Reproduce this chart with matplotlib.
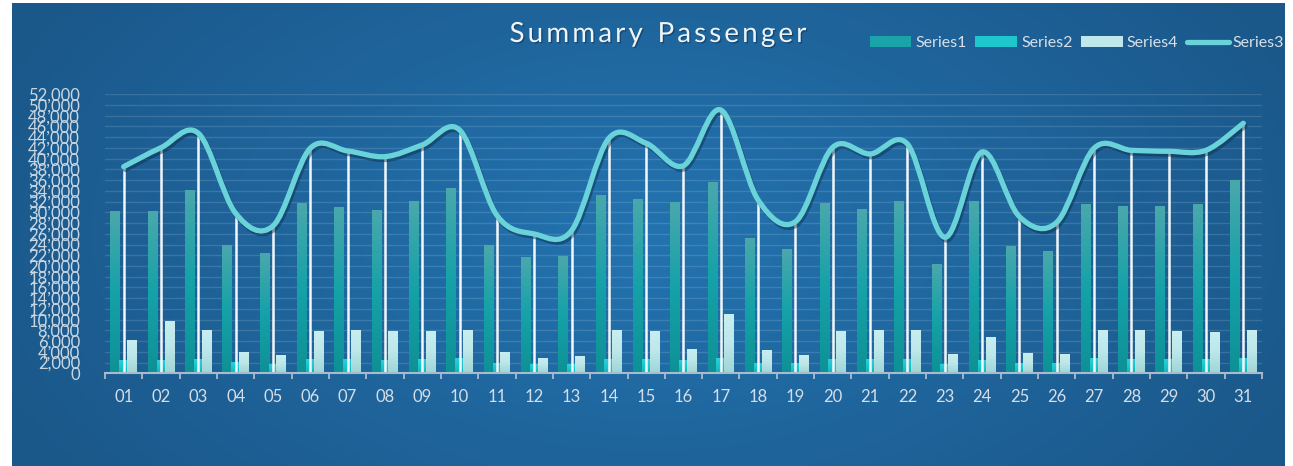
import numpy as np
import matplotlib
matplotlib.use("Agg")
import matplotlib.pyplot as plt
from matplotlib.path import Path
from matplotlib.patches import PathPatch, Patch
from matplotlib.lines import Line2D
import matplotlib.patheffects as pe
from matplotlib.colors import LinearSegmentedColormap

# ---------------- data ----------------
days = ["%02d" % d for d in range(1, 32)]
series1 = [30250, 30250, 34170, 23920, 22420, 31740, 31000, 30440, 32120, 34540,
           23920, 21680, 21870, 33230, 32490, 31930, 35660, 25150, 23170, 31740,
           30620, 32120, 20370, 32120, 23730, 22800, 31560, 31180, 31180, 31560, 36040]
series2 = [2480, 2480, 2670, 2110, 1740, 2670, 2670, 2480, 2670, 2860,
           1930, 1740, 1740, 2670, 2670, 2480, 2860, 1930, 1930, 2670,
           2670, 2670, 1740, 2480, 1930, 1930, 2860, 2670, 2670, 2670, 2860]
series4 = [6210, 9750, 8070, 3980, 3420, 7890, 8070, 7890, 7890, 8070,
           3980, 2860, 3230, 8070, 7890, 4540, 11050, 4350, 3420, 7890,
           8070, 8070, 3600, 6770, 3790, 3600, 8070, 8070, 7890, 7700, 8070]
series3 = [38510, 42050, 44740, 29820, 27460, 41940, 41440, 40380, 42560, 45350,
           29450, 25970, 26590, 43800, 42870, 38700, 49080, 32300, 28260, 42130,
           40880, 42740, 25350, 41250, 29190, 28140, 41940, 41560, 41380, 41560, 46600]
yticks = list(range(0, 52001, 2000))
title = "Summary Passenger"

W, H = 1293, 466
fig = plt.figure(figsize=(W / 100, H / 100), dpi=100)
fig.patch.set_facecolor("white")
FONT = ["Lato", "DejaVu Sans"]

# ---------------- background ----------------
bg = fig.add_axes([12 / W, 0, (1285 - 12) / W, 1 - 3 / H], zorder=-10)
xx, yy = np.meshgrid(np.linspace(-1, 1, 400), np.linspace(-1, 1, 150))
r = np.sqrt((xx * 0.9) ** 2 + (yy * 0.55) ** 2)
r = np.clip(r, 0, 1)
c_center = np.array([0x23, 0x73, 0xb0]) / 255
c_edge = np.array([0x1b, 0x58, 0x8a]) / 255
img = c_center[None, None, :] * (1 - r[..., None]) + c_edge[None, None, :] * r[..., None]
bg.imshow(img, aspect="auto", extent=[0, 1, 0, 1], interpolation="bilinear")
bg.set_axis_off()

# ---------------- main axes ----------------
ax_l, ax_r = 105 / W, 1262 / W
ax_t, ax_b = 94.3 / H, 373.3 / H
ax = fig.add_axes([ax_l, 1 - ax_b, ax_r - ax_l, ax_b - ax_t])
ax.patch.set_alpha(0)
n = len(days)
x = np.arange(n)
ax.set_xlim(-0.5, n - 0.5)
ax.set_ylim(0, 52000)

for y in yticks[1:]:
    ax.axhline(y, color="white", alpha=0.13, lw=1.0, zorder=0)

def grad_bars(xs, vals, width, top_col, mid_col, bot_col):
    cmap = LinearSegmentedColormap.from_list("g", [bot_col, mid_col, top_col])
    g = np.linspace(0, 1, 64)[:, None]
    bars = ax.bar(xs, vals, width=width, color=mid_col, zorder=2)
    for b in bars:
        x0, w, h = b.get_x(), b.get_width(), b.get_height()
        im = ax.imshow(g, cmap=cmap, origin="lower", aspect="auto",
                       extent=[x0, x0 + w, 0, h], zorder=2.1, interpolation="bilinear")
        im.set_clip_path(b)
    return bars

bw = 0.26
off = 0.225
grad_bars(x - off, series1, bw, "#4aa8ac", "#15a2a8", "#0e9196")
grad_bars(x, series2, bw * 0.9, "#2fd0d8", "#1ec6ce", "#19b4bc")
grad_bars(x + off, series4, bw, "#c8eef1", "#bde7ea", "#9fd6d6")

# drop lines
ax.vlines(x, 0, series3, colors="white", lw=1.8, alpha=0.95, zorder=3)

# smoothed line (Catmull-Rom bezier through the data points)
pts = np.column_stack([x, series3]).astype(float)
verts = [tuple(pts[0])]
codes = [Path.MOVETO]
for i in range(n - 1):
    p0 = pts[i - 1] if i > 0 else pts[i]
    p1 = pts[i]
    p2 = pts[i + 1]
    p3 = pts[i + 2] if i + 2 < n else pts[i + 1]
    c1 = p1 + (p2 - p0) / 6.0
    c2 = p2 - (p3 - p1) / 6.0
    verts += [tuple(c1), tuple(c2), tuple(p2)]
    codes += [Path.CURVE4] * 3
line = PathPatch(Path(verts, codes), facecolor="none", edgecolor="#6ad3da",
                 lw=3.8, capstyle="round", joinstyle="round", zorder=4)
line.set_path_effects([pe.SimpleLineShadow(offset=(1.2, -2.0), shadow_color="#0a2a45", alpha=0.45),
                       pe.Normal()])
ax.add_patch(line)

# axes styling
for s in ["top", "right", "left"]:
    ax.spines[s].set_visible(False)
ax.spines["bottom"].set_color("#a9bccd")
ax.spines["bottom"].set_linewidth(1.5)
ax.spines["bottom"].set_zorder(5)
ax.set_yticks(yticks)
ax.set_yticklabels(["{:,}".format(v) for v in yticks])
ax.tick_params(axis="y", length=0, pad=18, labelsize=12, labelcolor="#c9d6e2")
ax.set_xticks(x)
ax.set_xticklabels(days)
ax.tick_params(axis="x", which="major", length=0, pad=11, labelsize=12, labelcolor="#d4dee8")
ax.set_xticks(np.arange(-0.5, n, 1.0), minor=True)
ax.tick_params(axis="x", which="minor", length=4, width=1.3, color="#a9bccd", direction="out")
for lbl in ax.get_xticklabels() + ax.get_yticklabels():
    lbl.set_fontfamily(FONT)

# ---------------- title with letter spacing ----------------
fig.canvas.draw()
renderer = fig.canvas.get_renderer()
tsize = 20
spacing = 3.1
widths = []
for ch in title:
    t = fig.text(0, 0, ch if ch != " " else "n", fontsize=tsize, family=FONT)
    bb = t.get_window_extent(renderer)
    widths.append(bb.width if ch != " " else bb.width * 0.55)
    t.remove()
total = sum(widths) + spacing * (len(title) - 1)
cx, cy = 658, 466 - 34
xpos = cx - total / 2
for ch, w in zip(title, widths):
    if ch != " ":
        t = fig.text(xpos / W, cy / H, ch, fontsize=tsize, family=FONT, color="#eef4f8",
                     va="center", ha="left")
        t.set_path_effects([pe.withSimplePatchShadow(offset=(1, -1), shadow_rgbFace="#0b2f4f", alpha=0.5)])
    xpos += w + spacing

# ---------------- legend ----------------
handles = [Patch(facecolor="#1aa3a8", edgecolor="none"),
           Patch(facecolor="#1ec6ce", edgecolor="none"),
           Patch(facecolor="#bfe8ec", edgecolor="none"),
           Line2D([0], [0], color="#6ad3da", lw=3.8, solid_capstyle="round")]
leg = fig.legend(handles, ["Series1", "Series2", "Series4", "Series3"], ncol=4,
                 loc="center right", bbox_to_anchor=(1284 / W, 1 - 43 / H),
                 frameon=False, labelcolor="#d6e0ea",
                 handlelength=2.6, handleheight=0.65, handletextpad=0.25,
                 columnspacing=0.55, borderpad=0, borderaxespad=0,
                 prop={"family": FONT, "size": 11.5})

fig.savefig("out.png", dpi=100, facecolor="white")
